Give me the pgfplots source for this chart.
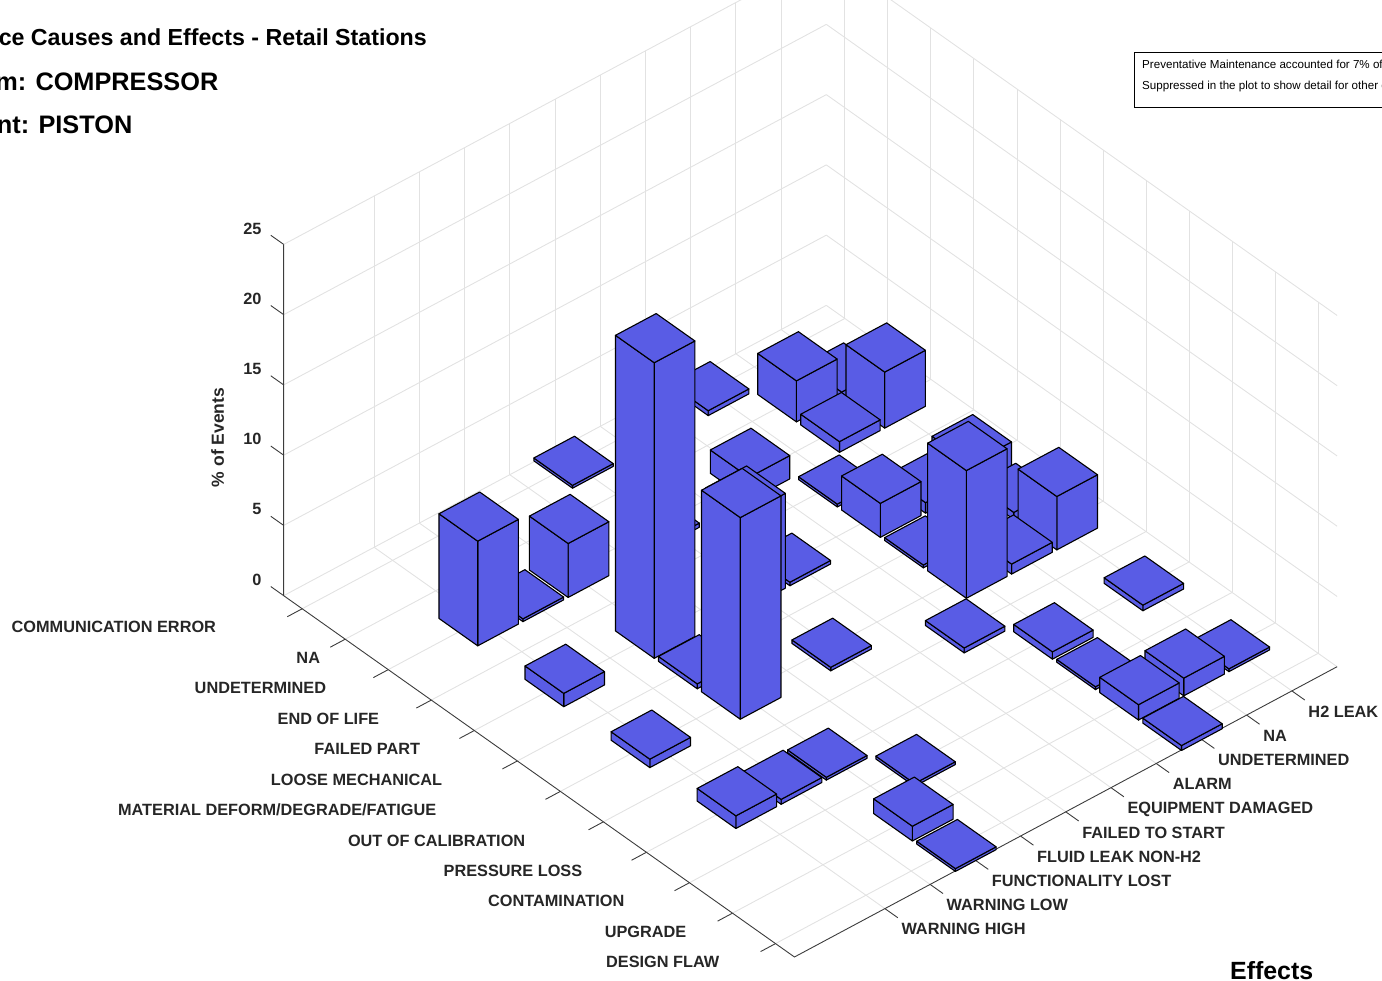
\documentclass[border=0pt]{standalone}
\usepackage{pgfplots}
\pgfplotsset{compat=1.18}
\usepackage{fontspec}
\setmainfont{Liberation Sans}
\definecolor{barblue}{RGB}{89,92,229}
\definecolor{axdark}{RGB}{60,60,60}
\definecolor{txtdark}{RGB}{38,38,38}
\definecolor{gridc}{RGB}{226,226,226}
\newcommand{\bbar}[3]{%
  \pgfmathsetmacro\xa{#1-0.45}\pgfmathsetmacro\xb{#1+0.45}%
  \pgfmathsetmacro\ya{#2-0.45}\pgfmathsetmacro\yb{#2+0.45}%
  \edef\bbartemp{%
    \noexpand\addplot3[forget plot,no marks,fill=barblue,draw=black,line width=1.1pt,line join=round] coordinates {(\xa,\ya,0) (\xb,\ya,0) (\xb,\ya,#3) (\xa,\ya,#3)} --cycle;
    \noexpand\addplot3[forget plot,no marks,fill=barblue,draw=black,line width=1.1pt,line join=round] coordinates {(\xa,\ya,0) (\xa,\yb,0) (\xa,\yb,#3) (\xa,\ya,#3)} --cycle;
    \noexpand\addplot3[forget plot,no marks,fill=barblue,draw=black,line width=1.1pt,line join=round] coordinates {(\xa,\ya,#3) (\xb,\ya,#3) (\xb,\yb,#3) (\xa,\yb,#3)} --cycle;
  }\bbartemp}
\newcommand{\yl}[2]{#1\hspace*{#2pt}}
\begin{document}
\begin{tikzpicture}[x=1pt,y=1pt]
\useasboundingbox (0,0) rectangle (1382,981);
\clip (0,0) rectangle (1382,981);
\begin{axis}[
  at={(283.7pt,24pt)},anchor=south west,
  x={(45.22pt,24.19pt)},y={(-43.03pt,30.44pt)},z={(0pt,14.05pt)},
  xmin=-1,xmax=11,ymin=0.56,ymax=12.43,zmin=0,zmax=25,
  clip=false,
  axis line style={draw=none},
  grid=major,
  grid style={gridc,line width=0.9pt},
  xtick={1,...,10},ytick={1,...,12},ztick={0,5,10,15,20,25},
  major tick length=0pt,
  /pgf/number format/assume math mode=true,
  tick label style={font=\fontsize{16.3pt}{18pt}\selectfont\bfseries,text=txtdark,inner sep=0pt},
  xticklabels={WARNING HIGH,WARNING LOW,FUNCTIONALITY LOST,FLUID LEAK NON-H2,FAILED TO START,EQUIPMENT DAMAGED,ALARM,UNDETERMINED,NA,H2 LEAK},
  yticklabels={\yl{DESIGN FLAW}{56},\yl{UPGRADE}{46},\yl{CONTAMINATION}{65},\yl{PRESSURE LOSS}{64},\yl{OUT OF CALIBRATION}{78},\yl{MATERIAL DEFORM/DEGRADE/FATIGUE}{124},\yl{LOOSE MECHANICAL}{75},\yl{FAILED PART}{54},\yl{END OF LIFE}{52},\yl{UNDETERMINED}{62},\yl{NA}{25},\yl{COMMUNICATION ERROR}{86}},
  xticklabel style={anchor=west,xshift=16.4pt,yshift=-20.4pt,text height=11.8pt,text depth=0pt},
  yticklabel style={anchor=east,yshift=-18.3pt,text height=11.8pt,text depth=0pt},
  zticklabel style={anchor=east,xshift=-22pt,yshift=16pt},
]
\addplot3[forget plot,no marks,axdark,line width=0.9pt] coordinates {(-1,12.43,25) (-1,12.43,0) (-1,0.56,0) (11,0.56,0)};
\pgfplotsinvokeforeach{1,...,10}{\addplot3[forget plot,no marks,axdark,line width=0.9pt] coordinates {(#1,0.56,0) (#1,0.26,0)};}
\pgfplotsinvokeforeach{1,...,12}{\addplot3[forget plot,no marks,axdark,line width=0.9pt] coordinates {(-1,#1,0) (-1.33,#1,0)};}
\pgfplotsinvokeforeach{0,5,...,25}{\addplot3[forget plot,no marks,axdark,line width=0.9pt] coordinates {(-1,12.43,#1) (-1,12.73,#1)};}
\bbar{10}{11}{0.4}\bbar{10}{10}{3.99}\bbar{10}{8}{1.8}\bbar{10}{7}{0.5}\bbar{10}{6}{3.8}\bbar{10}{4}{0.4}\bbar{10}{2}{0.2}
\bbar{9}{11}{2.92}\bbar{9}{10}{0.76}\bbar{9}{8}{0.75}\bbar{9}{6}{0.71}\bbar{9}{2}{1.26}
\bbar{8}{12}{0.35}\bbar{8}{9}{0.2}\bbar{8}{8}{2.42}\bbar{8}{7}{0.2}\bbar{8}{6}{9.09}\bbar{8}{4}{0.52}\bbar{8}{3}{0.2}\bbar{8}{2}{1.09}\bbar{8}{1}{0.35}
\bbar{7}{10}{1.66}\bbar{7}{5}{0.35}
\bbar{6}{8}{0.25}
\bbar{5}{12}{0.2}\bbar{5}{10}{0.3}\bbar{5}{8}{6.75}\bbar{5}{6}{0.25}
\bbar{4}{3}{0.2}
\bbar{3}{10}{3.84}\bbar{3}{8}{21.04}\bbar{3}{7}{0.35}\bbar{3}{6}{14.35}\bbar{3}{4}{0.2}\bbar{3}{2}{1.05}\bbar{3}{1}{0.2}
\bbar{2}{10}{0.2}\bbar{2}{4}{0.35}
\bbar{1}{10}{7.45}\bbar{1}{8}{0.95}\bbar{1}{6}{0.6}\bbar{1}{4}{0.9}
\end{axis}
\node[anchor=east,inner sep=0,font=\fontsize{23.2pt}{25pt}\selectfont\bfseries] at (427,944) {ce Causes and Effects - Retail Stations};
\node[anchor=east,inner sep=0,font=\fontsize{25.3pt}{27pt}\selectfont\bfseries] at (218.5,899) {m: COMPRESSOR};
\node[anchor=east,inner sep=0,font=\fontsize{25.3pt}{27pt}\selectfont\bfseries] at (132.5,856) {nt: PISTON};
\node[anchor=west,inner sep=0,font=\fontsize{24.9pt}{27pt}\selectfont\bfseries] at (1230,10) {Effects};
\node[rotate=90,inner sep=0,text=txtdark,font=\fontsize{17.5pt}{19pt}\selectfont\bfseries] at (217.5,543.5) {\% of Events};
\draw[black,line width=1pt] (1134.3,928.5) rectangle (1400,873.7);
\node[anchor=west,inner sep=0,font=\fontsize{11.6pt}{13pt}\selectfont] at (1142,917) {Preventative Maintenance accounted for 7\% of};
\node[anchor=west,inner sep=0,font=\fontsize{11.6pt}{13pt}\selectfont] at (1142,894.5) {Suppressed in the plot to show detail for other c};
\end{tikzpicture}
\end{document}
